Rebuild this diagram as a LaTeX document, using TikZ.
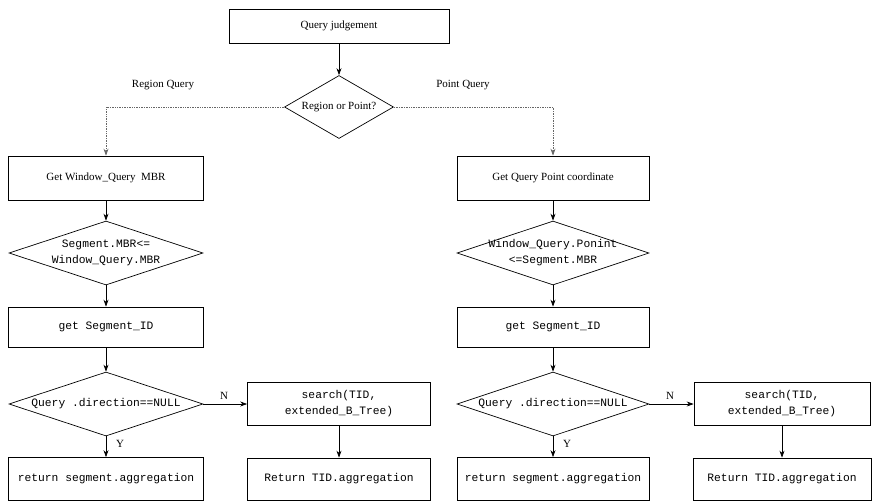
\documentclass[tikz,border=0pt]{standalone}
\usepackage{fontspec}
\setmainfont{Liberation Serif}
\setmonofont{Liberation Mono}
\usetikzlibrary{shapes.geometric,arrows.meta}
\begin{document}
\begin{tikzpicture}[x=1pt,y=-1pt,
  procbox/.style={draw, line width=0.7pt, rectangle, inner sep=0pt, align=center},
  dia/.style={draw, line width=0.7pt, diamond, inner sep=0pt},
  serif/.style={font=\fontsize{11}{13}\selectfont},
  mono/.style={font=\ttfamily\fontsize{11.3}{16}\selectfont, align=center},
  arr/.style={-{Stealth[length=7pt,width=5pt]}, line width=0.7pt},
  dotarr/.style={arr, densely dotted, draw=black!60},
  lbl/.style={font=\fontsize{11}{13}\selectfont}]
\useasboundingbox (0,0) rectangle (880,501);

% top
\node[procbox, serif, minimum width=220pt, minimum height=34pt] (q) at (339,26) {Query judgement};
\node[dia, minimum width=109pt, minimum height=63pt] (d0) at (339,107) {};
\node[serif] (d0t) at (d0) {Region or Point?};
\node[lbl] (lr) at (163,85) {Region Query};
\node[lbl] (lp) at (463,85) {Point Query};

% left column
\node[procbox, serif, minimum width=195pt, minimum height=44pt] (wq) at (106,178) {Get Window\_Query\ \ MBR};
\node[dia, minimum width=194pt, minimum height=64pt] (d1) at (106,253) {};
\node[mono] (d1t) at (d1) {Segment.MBR<=\\Window\_Query.MBR};
\node[procbox, mono, minimum width=195pt, minimum height=40pt] (s1) at (106,327) {get Segment\_ID};
\node[dia, minimum width=194pt, minimum height=64pt] (d2) at (106,404) {};
\node[mono] (d2t) at (d2) {Query .direction==NULL};
\node[procbox, mono, minimum width=195pt, minimum height=43pt] (r1) at (106,479) {return segment.aggregation};
\node[procbox, mono, minimum width=183pt, minimum height=43pt] (t1) at (339,404) {search(TID,\\extended\_B\_Tree)};
\node[procbox, mono, minimum width=183pt, minimum height=42pt] (u1) at (339,479) {Return TID.aggregation};
\node[lbl] (n1) at (224,396) {N};
\node[lbl] (y1) at (120,444) {Y};

% right column
\node[procbox, serif, minimum width=192pt, minimum height=44pt] (gq) at (553,178) {Get Query Point coordinate};
\node[dia, minimum width=192pt, minimum height=64pt] (d3) at (553,253) {};
\node[mono] (d3t) at (d3) {Window\_Query.Ponint\\<=Segment.MBR};
\node[procbox, mono, minimum width=192pt, minimum height=40pt] (s2) at (553,327) {get Segment\_ID};
\node[dia, minimum width=192pt, minimum height=64pt] (d4) at (553,404) {};
\node[mono] (d4t) at (d4) {Query .direction==NULL};
\node[procbox, mono, minimum width=192pt, minimum height=43pt] (r2) at (553,479) {return segment.aggregation};
\node[procbox, mono, minimum width=176pt, minimum height=43pt] (t2) at (782,404) {search(TID,\\extended\_B\_Tree)};
\node[procbox, mono, minimum width=178pt, minimum height=42pt] (u2) at (782,479) {Return TID.aggregation};
\node[lbl] (n2) at (670,396) {N};
\node[lbl] (y2) at (567,444) {Y};

% connectors
\draw[arr] (q) -- (d0);
\draw[dotarr] (d0.west) -| (wq.north);
\draw[dotarr] (d0.east) -| (gq.north);
\draw[arr] (wq) -- (d1);
\draw[arr] (d1) -- (s1);
\draw[arr] (s1) -- (d2);
\draw[arr] (d2) -- (r1);
\draw[arr] (d2.east) -- (t1.west);
\draw[arr] (t1) -- (u1);
\draw[arr] (gq) -- (d3);
\draw[arr] (d3) -- (s2);
\draw[arr] (s2) -- (d4);
\draw[arr] (d4) -- (r2);
\draw[arr] (d4.east) -- (t2.west);
\draw[arr] (t2) -- (u2);
\end{tikzpicture}
\end{document}
